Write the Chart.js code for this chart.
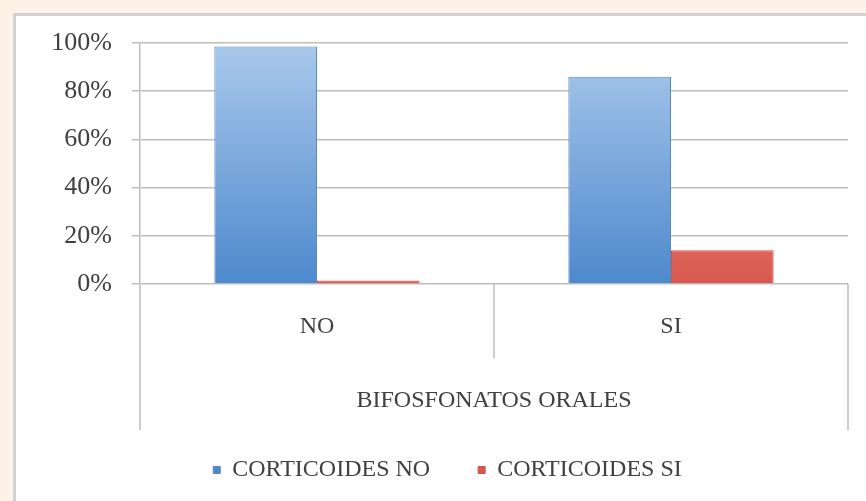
<!DOCTYPE html>
<html>
<head>
<meta charset="utf-8">
<script src="https://cdn.jsdelivr.net/npm/chart.js@4/dist/chart.umd.min.js"></script>
<style>
  html, body { margin: 0; padding: 0; }
  body { width: 866px; height: 501px; background: #fdf2e5; overflow: hidden; }
  #panel {
    position: absolute; left: 13px; top: 13px; width: 880px; height: 500px;
    background: #ffffff; border: 3px solid #d2d2d2; border-bottom: none; border-right: none;
  }
  #chart { display: block; }
</style>
</head>
<body>
<div id="panel"><canvas id="chart" width="836" height="485"></canvas></div>
<script>
// data
const categories = ['NO', 'SI'];
const seriesNames = ['CORTICOIDES NO', 'CORTICOIDES SI'];
const corticoidesNo = [98.5, 86];
const corticoidesSi = [1.5, 14];
const yTicks = [0, 20, 40, 60, 80, 100];
const axisTitle = 'BIFOSFONATOS ORALES';

const FONT = 'Liberation Serif';
const TEXT = '#404040';
const LINE = '#bdbdbd';

function barGradient(ctx, top, bottom) {
    const chart = ctx.chart;
    const area = chart.chartArea;
    if (!area) return bottom;
    const g = chart.ctx.createLinearGradient(0, area.top, 0, area.bottom);
    g.addColorStop(0, top);
    g.addColorStop(1, bottom);
    return g;
}

// outer frame lines of the category axis + divider between groups
const categoryFrame = {
    id: 'categoryFrame',
    afterDraw(chart) {
        const x = chart.scales.x;
        const ctx = chart.ctx;
        const base = chart.chartArea.bottom;
        const mid = (x.getPixelForTick(0) + x.getPixelForTick(1)) / 2;
        ctx.save();
        ctx.strokeStyle = LINE;
        ctx.lineWidth = 1.5;
        ctx.beginPath();
        ctx.moveTo(chart.chartArea.left, base);
        ctx.lineTo(chart.chartArea.left, base + 146);
        ctx.moveTo(chart.chartArea.right, base);
        ctx.lineTo(chart.chartArea.right, base + 146);
        ctx.moveTo(mid, base);
        ctx.lineTo(mid, base + 74);
        ctx.stroke();
        ctx.restore();
    }
};

const chartData = {
    labels: categories,
    datasets: [
        {
            label: seriesNames[0],
            data: corticoidesNo,
            backgroundColor: (ctx) => barGradient(ctx, '#aac9ec', '#4d89cc'),
            borderColor: '#5a88c0',
            borderWidth: 1,
        },
        {
            label: seriesNames[1],
            data: corticoidesSi,
            backgroundColor: (ctx) => barGradient(ctx, '#f6b2aa', '#d9574c'),
            borderColor: '#c45a52',
            borderWidth: 1,
        },
    ],
};

const options = {
    responsive: false,
    animation: false,
    categoryPercentage: 0.58,
    barPercentage: 1.0,
    layout: { padding: { left: 31, right: 4, top: 27, bottom: 9 } },
    plugins: {
        legend: {
            position: 'bottom',
            labels: {
                boxWidth: 7,
                boxHeight: 7,
                padding: 48,
                color: TEXT,
                font: { family: FONT, size: 24 },
            },
        },
        tooltip: { enabled: false },
    },
    scales: {
        x: {
            grid: { display: false, drawTicks: false },
            border: { display: false },
            ticks: { color: TEXT, font: { family: FONT, size: 24 }, padding: 28 },
            title: {
                display: true,
                text: axisTitle,
                color: TEXT,
                font: { family: FONT, size: 24 },
                padding: { top: 0, bottom: -5 },
            },
            afterFit: (scale) => { scale.height = 126; },
        },
        y: {
            min: 0,
            max: 100,
            afterBuildTicks: (scale) => { scale.ticks = yTicks.map((v) => ({ value: v })); },
            grid: { color: LINE, tickLength: 8, lineWidth: 1.5 },
            border: { color: LINE, width: 1.5 },
            ticks: {
                color: TEXT,
                padding: 20,
                font: { family: FONT, size: 26 },
                callback: (v) => v + '%',
            },
            afterFit: (scale) => {
                scale.width = 93;
                scale.paddingTop = 0; // let layout.padding.top set the plot top
            },
        },
    },
};

new Chart(document.getElementById('chart').getContext('2d'), {
    type: 'bar',
    data: chartData,
    options: options,
    plugins: [categoryFrame],
});
</script>
</body>
</html>
